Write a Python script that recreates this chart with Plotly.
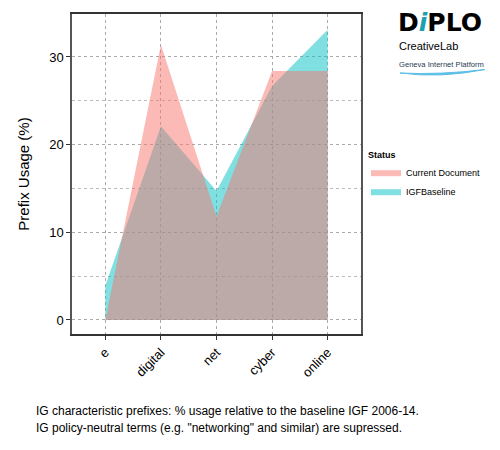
import plotly.graph_objects as go

categories = ["e", "digital", "net", "cyber", "online"]
current_document = [0.0, 31.4, 11.8, 28.4, 28.4]
igf_baseline = [3.9, 22.1, 14.7, 26.7, 33.1]
y_ticks = [0, 10, 20, 30]
caption_lines = [
    "IG characteristic prefixes: % usage relative to the baseline IGF 2006-14.",
    "IG policy-neutral terms (e.g. \"networking\" and similar) are supressed.",
]

OFF = 8  # page body margin
W, H = 500 - OFF, 450 - OFF
L, R, T, B = 72 - OFF, 361 - OFF, 14 - OFF, 334 - OFF


def px(x):
    return (x - OFF - L) / (R - L)


def py(y):
    return (B - (y - OFF)) / (B - T)


fig = go.Figure()
fig.add_trace(go.Scatter(
    x=categories, y=igf_baseline, name="IGFBaseline", mode="lines",
    line=dict(width=0, color="rgba(0,191,196,0.5)"), fill="tozeroy",
    fillcolor="rgba(0,191,196,0.5)", legendrank=2,
))
fig.add_trace(go.Scatter(
    x=categories, y=current_document, name="Current Document", mode="lines",
    line=dict(width=0, color="rgba(248,118,109,0.5)"), fill="tozeroy",
    fillcolor="rgba(248,118,109,0.5)", legendrank=1,
))

grid = dict(showgrid=True, gridcolor="#aaaaaa", griddash="dot", gridwidth=1)
fig.update_layout(
    width=W, height=H,
    margin=dict(l=L, r=W - R, t=T, b=H - B, autoexpand=False),
    paper_bgcolor="white", plot_bgcolor="white",
    font=dict(family="Liberation Sans, Arial, sans-serif", color="black", size=12),
    showlegend=True,
    legend=dict(
        title=dict(text="<b>Status</b>", font=dict(size=9)),
        font=dict(size=9), x=px(366), xanchor="left", y=py(146), yanchor="top",
        traceorder="normal", itemwidth=30, tracegroupgap=0,
    ),
    xaxis=dict(
        type="category", range=[-0.6, 4.6], tickangle=-45,
        ticks="outside", ticklen=4, tickcolor="#333333", automargin=False,
        tickfont=dict(size=13), showline=True, linecolor="#333333", linewidth=1.5,
        mirror=True, zeroline=False, **grid,
    ),
    yaxis=dict(
        range=[-1.6, 34.9], tickvals=y_ticks, ticks="outside", ticklen=4,
        tickcolor="#333333", tickfont=dict(size=13), automargin=False,
        title=dict(text="Prefix Usage (%)", font=dict(size=15), standoff=16),
        showline=True, linecolor="#555555", linewidth=1.5, mirror=True,
        zeroline=False,
        minor=dict(dtick=5, showgrid=True, gridcolor="#bbbbbb", griddash="dot"),
        **grid,
    ),
)

# Logo
fig.add_annotation(
    xref="paper", yref="paper", x=px(396), y=py(22.5), xanchor="left", yanchor="middle",
    text="<b>D<i><span style='color:#1aa0b4'>i</span></i>PLO</b>",
    showarrow=False, font=dict(size=25, family="DejaVu Sans, sans-serif", color="black"),
)
fig.add_annotation(
    xref="paper", yref="paper", x=px(397), y=py(46), xanchor="left", yanchor="middle",
    text="CreativeLab", showarrow=False, font=dict(size=11, color="black"),
)
fig.add_annotation(
    xref="paper", yref="paper", x=px(397), y=py(64), xanchor="left", yanchor="middle",
    text="Geneva Internet Platform", showarrow=False,
    font=dict(size=7.6, color="#2b3a55", family="Liberation Sans, sans-serif"),
)
fig.add_shape(
    type="path", xref="paper", yref="paper",
    path=(f"M {px(400)} {py(73)} Q {px(440)} {py(78.5)} {px(485)} {py(69.5)} "
          f"Q {px(440)} {py(75)} {px(400)} {py(73)} Z"),
    line=dict(color="#5bbfe6", width=1), fillcolor="#5bbfe6",
)

# Caption
for i, line in enumerate(caption_lines):
    fig.add_annotation(
        xref="paper", yref="paper", x=px(34), y=py(411 + i * 17),
        xanchor="left", yanchor="middle", text=line, showarrow=False,
        font=dict(size=12, color="black"),
    )

fig.write_html("out.html")
